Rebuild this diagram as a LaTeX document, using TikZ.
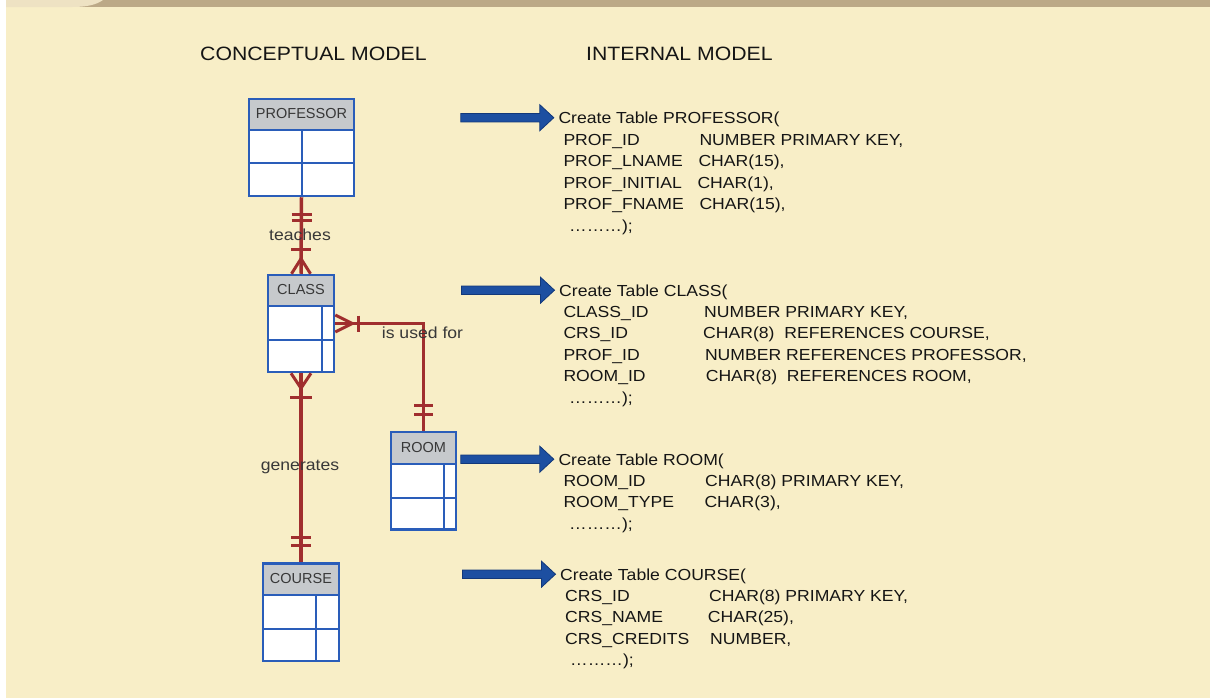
\documentclass[tikz,border=0pt]{standalone}
\usepackage{fontspec}
\setmainfont{Liberation Sans}[FakeStretch=1.1]
\newfontfamily\boxfont{Liberation Sans}
\usetikzlibrary{calc,fit}
\definecolor{bg}{HTML}{F8EEC7}
\definecolor{band}{HTML}{BCA987}
\definecolor{bandlight}{HTML}{EEE2C3}
\definecolor{eblue}{HTML}{2A5DB9}
\definecolor{hdr}{HTML}{C6C9CC}
\definecolor{relred}{HTML}{A02E2E}
\definecolor{ablue}{HTML}{1D4FA1}
\definecolor{ablueedge}{HTML}{12387A}
\definecolor{txt}{HTML}{151515}
\newcommand\blockarr[2]{%
  \coordinate (#2-tip) at ($(#1.base west)+(-4.5,-5.8)$);
  \coordinate (#2-tail) at ($(#2-tip)+(-93,0)$);
  \filldraw[blockarrow] ($(#2-tail)+(0,-4.2)$) -- ($(#2-tip)+(-14,-4.2)$) -- ($(#2-tip)+(-14,-13)$) -- (#2-tip) -- ($(#2-tip)+(-14,13)$) -- ($(#2-tip)+(-14,4.2)$) -- ($(#2-tail)+(0,4.2)$) -- cycle;}
\begin{document}
\begin{tikzpicture}[x=1pt,y=-1pt,
 ebox/.style={draw=eblue, line width=2.5pt, inner sep=0pt},
 eline/.style={draw=eblue, line width=2pt},
 elabel/.style={font=\boxfont\fontsize{14.5}{16}\selectfont, text=txt!85!white, inner sep=0pt},
 rel/.style={draw=relred, line width=3.5pt},
 tick/.style={draw=relred, line width=3pt},
 foot/.style={draw=relred, line width=3pt, line join=miter},
 heading/.style={font=\fontsize{19.3}{23}\selectfont, text=txt, anchor=base west, inner sep=0pt},
 code/.style={font=\fontsize{16}{19}\selectfont, text=txt, anchor=base west, inner sep=0pt},
 rlabel/.style={font=\fontsize{16}{19}\selectfont, text=txt!85!white, inner sep=0pt},
 blockarrow/.style={fill=ablue, draw=ablueedge, line width=0.8pt, line join=miter}]

\useasboundingbox (0,0) rectangle (1210,699);
\fill[white] (0,0) rectangle (1210,699);
\fill[bg] (6,7) rectangle (1210,698);
\fill[band] (6,0) rectangle (1210,7);
\fill[bandlight] (6,0) -- (103,0) .. controls (96,5) and (86,7) .. (72,7) -- (6,7) -- cycle;

% headings
\node[heading] (cm) at (200,60) {CONCEPTUAL MODEL};
\node[heading] (im) at (586,60) {INTERNAL MODEL};

% PROFESSOR entity
\fill[white] (249,99) rectangle (354,196);
\fill[hdr] (249,99) rectangle (354,130);
\draw[eline] (249,130) -- (354,130) (249,163) -- (354,163) (302,130) -- (302,196);
\node[ebox, fit={(249,99) (354,196)}] (prof) {};
\node[elabel] (prof-t) at (301.5,114) {PROFESSOR};

% CLASS entity
\fill[white] (268,275) rectangle (334,372);
\fill[hdr] (268,275) rectangle (334,306);
\draw[eline] (268,306) -- (334,306) (268,339.5) -- (334,339.5) (322,306) -- (322,372);
\node[ebox, fit={(268,275) (334,372)}] (class) {};
\node[elabel] (class-t) at (301,290) {CLASS};

% ROOM entity
\fill[white] (391,432) rectangle (456,529.5);
\fill[hdr] (391,432) rectangle (456,463.5);
\draw[eline] (391,463.5) -- (456,463.5) (391,497.5) -- (456,497.5) (443.5,463.5) -- (443.5,529.5);
\node[ebox, fit={(391,432) (456,529.5)}] (room) {};
\node[elabel] (room-t) at (423.5,447.5) {ROOM};

% COURSE entity
\fill[white] (263,563.5) rectangle (339,661);
\fill[hdr] (263,563.5) rectangle (339,594.5);
\draw[eline] (263,594.5) -- (339,594.5) (263,628.5) -- (339,628.5) (315.5,594.5) -- (315.5,661);
\node[ebox, fit={(263,563.5) (339,661)}] (course) {};
\node[elabel] (course-t) at (301,579) {COURSE};

% PROFESSOR - CLASS
\draw[rel] (prof.south) -- (class.north);
\draw[tick] ($(prof.south)+(-10,17)$) -- ++(20,0);
\draw[tick] ($(prof.south)+(-10,23)$) -- ++(20,0);
\draw[tick] ($(class.north)+(-10,-24)$) -- ++(20,0);
\draw[foot] ($(class.north)+(-9.5,0)$) -- ($(class.north)+(0,-15)$) -- ($(class.north)+(9.5,0)$);
\node[rlabel] (teaches) at (300,235) {teaches};

% CLASS - ROOM
\draw[rel] (class.east) -| (room.north);
\draw[foot] ($(class.east)+(0,-8.5)$) -- ($(class.east)+(17,0)$) -- ($(class.east)+(0,8.5)$);
\draw[tick] ($(class.east)+(23,-8)$) -- ++(0,16);
\draw[tick] ($(room.north)+(-9.5,-25.5)$) -- ++(19,0);
\draw[tick] ($(room.north)+(-9.5,-16.5)$) -- ++(19,0);
\node[rlabel] (usedfor) at (422.5,332.3) {is used for};

% CLASS - COURSE
\draw[rel] (class.south) -- (course.north);
\draw[foot] ($(class.south)+(-10,0)$) -- ($(class.south)+(0,15)$) -- ($(class.south)+(10,0)$);
\draw[tick] ($(class.south)+(-11,24)$) -- ++(22,0);
\draw[tick] ($(course.north)+(-10,-25)$) -- ++(20,0);
\draw[tick] ($(course.north)+(-10,-16.5)$) -- ++(20,0);
\node[rlabel] (generates) at (300,467.3) {generates};

% PROFESSOR table
\node[code] (ct1) at (558.3,123.5) {Create Table PROFESSOR(};
\node[code] (p1a) at (563.3,145.1) {PROF\_ID};
\node[code] (p1b) at (699.3,145.1) {NUMBER PRIMARY KEY,};
\node[code] (p2a) at (563.3,166.7) {PROF\_LNAME};
\node[code] (p2b) at (698.3,166.7) {CHAR(15),};
\node[code] (p3a) at (563.3,188.3) {PROF\_INITIAL};
\node[code] (p3b) at (697.3,188.3) {CHAR(1),};
\node[code] (p4a) at (563.3,209.9) {PROF\_FNAME};
\node[code] (p4b) at (699.3,209.9) {CHAR(15),};
\node[code] (p5) at (569,231.5) {………);};
\blockarr{ct1}{a1}

% CLASS table
\node[code] (ct2) at (559,296) {Create Table CLASS(};
\node[code] (c1a) at (563.3,317.4) {CLASS\_ID};
\node[code] (c1b) at (704,317.4) {NUMBER PRIMARY KEY,};
\node[code] (c2a) at (563.3,338.8) {CRS\_ID};
\node[code] (c2b) at (703,338.8) {CHAR(8)\ \ REFERENCES COURSE,};
\node[code] (c3a) at (563.3,360.2) {PROF\_ID};
\node[code] (c3b) at (704.8,360.2) {NUMBER REFERENCES PROFESSOR,};
\node[code] (c4a) at (563.3,381.6) {ROOM\_ID};
\node[code] (c4b) at (705.6,381.6) {CHAR(8)\ \ REFERENCES ROOM,};
\node[code] (c5) at (569,403) {………);};
\blockarr{ct2}{a2}

% ROOM table
\node[code] (ct3) at (558.3,465) {Create Table ROOM(};
\node[code] (r1a) at (563.3,486.4) {ROOM\_ID};
\node[code] (r1b) at (705,486.4) {CHAR(8) PRIMARY KEY,};
\node[code] (r2a) at (563.3,507.8) {ROOM\_TYPE};
\node[code] (r2b) at (704.3,507.8) {CHAR(3),};
\node[code] (r3) at (569,529.2) {………);};
\blockarr{ct3}{a3}

% COURSE table
\node[code] (ct4) at (560,580) {Create Table COURSE(};
\node[code] (s1a) at (565,601.4) {CRS\_ID};
\node[code] (s1b) at (709,601.4) {CHAR(8) PRIMARY KEY,};
\node[code] (s2a) at (565,622.8) {CRS\_NAME};
\node[code] (s2b) at (707.7,622.8) {CHAR(25),};
\node[code] (s3a) at (565,644.2) {CRS\_CREDITS};
\node[code] (s3b) at (710,644.2) {NUMBER,};
\node[code] (s4) at (570,665.6) {………);};
\blockarr{ct4}{a4}
\end{tikzpicture}
\end{document}
